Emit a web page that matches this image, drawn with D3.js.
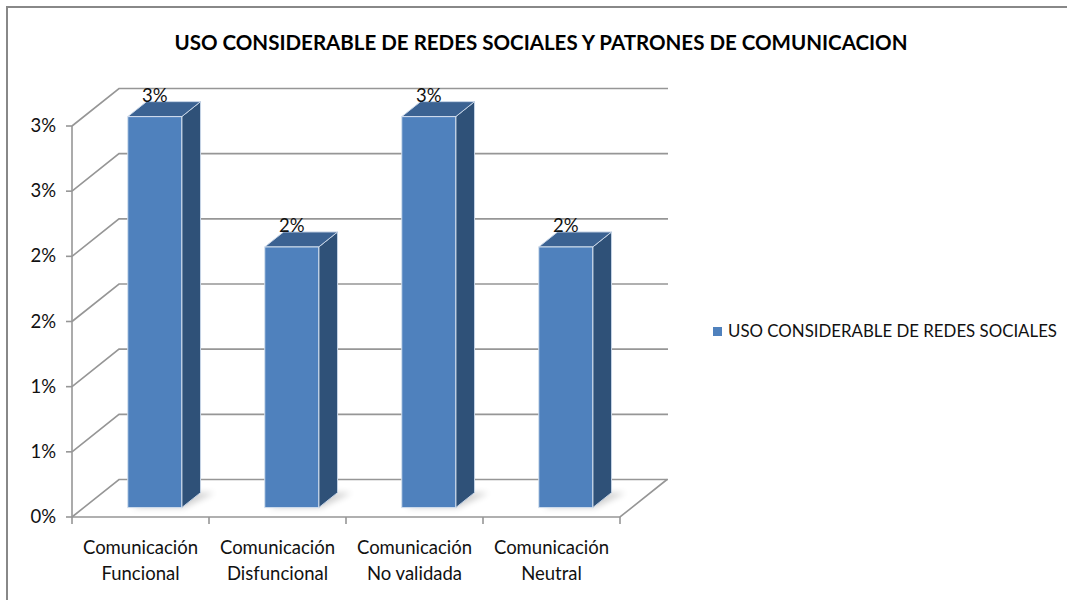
<!DOCTYPE html>
<html><head><meta charset="utf-8">
<script src="https://cdn.jsdelivr.net/npm/d3@7"></script>
<style>body{margin:0;background:#fff}svg{display:block}</style>
</head><body>
<svg id="c" width="1067" height="600"></svg>
<script>
const title = "USO CONSIDERABLE DE REDES SOCIALES Y PATRONES DE COMUNICACION";
const seriesName = "USO CONSIDERABLE DE REDES SOCIALES";
const categories = ["Comunicación Funcional", "Comunicación Disfuncional", "Comunicación No validada", "Comunicación Neutral"];
const values = [0.03, 0.02, 0.03, 0.02];
const valueLabels = ["3%", "2%", "3%", "2%"];
const tickValues = [0, 0.005, 0.01, 0.015, 0.02, 0.025, 0.03];
const tickLabels = ["0%", "1%", "1%", "2%", "2%", "3%", "3%"];

const svg = d3.select("#c");
const FONT = "Lato, 'Open Sans', sans-serif";
const DX = 47, DY = -37.5;      // full depth offset
const z0 = 0.25, z1 = 0.65;     // bar depth extent
const backRight = 668;

const x = d3.scaleBand().domain(categories).range([72, 620]);
const y = d3.scaleLinear().domain([0, 0.03]).range([517, 126]);

const defs = svg.append("defs");
defs.append("filter").attr("id", "blur").attr("x", "-50%").attr("y", "-50%").attr("width", "200%").attr("height", "200%")
  .append("feGaussianBlur").attr("stdDeviation", 3);

// outer border
svg.append("rect").attr("x", 7).attr("y", 7).attr("width", 1070).attr("height", 600)
  .attr("fill", "none").attr("stroke", "#888").attr("stroke-width", 2);

// title
svg.append("text").attr("x", 541).attr("y", 50).attr("text-anchor", "middle")
  .attr("font-family", FONT).attr("font-weight", "bold").attr("font-size", 20.5)
  .attr("textLength", 733).attr("lengthAdjust", "spacingAndGlyphs")
  .attr("fill", "#000").text(title);

const grid = svg.append("g").attr("stroke", "#969696").attr("stroke-width", 1.6).attr("fill", "none");
tickValues.forEach(t => {
  const yy = y(t);
  grid.append("path").attr("d", `M${x.range()[0]},${yy}L${x.range()[0] + DX},${yy + DY}L${backRight},${yy + DY}`);
});
grid.append("path").attr("d", `M${x.range()[0]},${y(0)}L${x.range()[1]},${y(0)}L${x.range()[1] + DX},${y(0) + DY}`);
grid.append("line").attr("x1", x.range()[0]).attr("x2", x.range()[0]).attr("y1", y(0)).attr("y2", y(0.03));
tickValues.forEach(t => {
  grid.append("line").attr("x1", x.range()[0] - 6).attr("x2", x.range()[0]).attr("y1", y(t)).attr("y2", y(t));
});
const bounds = categories.map(c => x(c)).concat([x.range()[1]]);
bounds.forEach(b => {
  grid.append("line").attr("x1", b).attr("x2", b).attr("y1", y(0)).attr("y2", y(0) + 7);
});

// y tick labels
svg.append("g").selectAll("text").data(tickValues).join("text")
  .attr("x", 56).attr("y", d => y(d) + 6).attr("text-anchor", "end")
  .attr("font-family", FONT).attr("font-size", 18.5).attr("fill", "#111")
  .text((d, i) => tickLabels[i]);

// category labels
const cat = svg.append("g");
categories.forEach(c => {
  const parts = c.split(" ");
  const lines = [parts[0], parts.slice(1).join(" ")];
  const t = cat.append("text").attr("text-anchor", "middle").attr("font-family", FONT)
    .attr("font-size", 18.5).attr("fill", "#111");
  lines.forEach((l, i) => t.append("tspan").attr("x", x(c) + x.bandwidth() / 2).attr("y", 554 + i * 26).text(l));
});

// bars
const bw = x.bandwidth() * 0.394;
const bars = svg.append("g");
categories.forEach((c, i) => {
  const cx = x(c) + x.bandwidth() / 2 + z0 * DX + 2.5;
  const xl = cx - bw / 2, xr = cx + bw / 2;
  const yb = y(0) + z0 * DY, yt = y(values[i]) + z0 * DY;
  const ddx = (z1 - z0) * DX, ddy = (z1 - z0) * DY;
  bars.append("path").attr("d", `M${xl + 4},${yb}L${xr + 2},${yb}L${xr + ddx + 14},${yb + ddy}L${xl + ddx + 10},${yb + ddy}Z`)
    .attr("fill", "#000").attr("opacity", 0.18).attr("filter", "url(#blur)");
  bars.append("path").attr("d", `M${xr},${yb}L${xr + ddx},${yb + ddy}L${xr + ddx},${yt + ddy}L${xr},${yt}Z`)
    .attr("fill", "#2f5178").attr("stroke", "#c6d4e6").attr("stroke-width", 1).attr("stroke-linejoin", "round");
  bars.append("path").attr("d", `M${xl},${yt}L${xr},${yt}L${xr + ddx},${yt + ddy}L${xl + ddx},${yt + ddy}Z`)
    .attr("fill", "#3b6292").attr("stroke", "#c6d4e6").attr("stroke-width", 1).attr("stroke-linejoin", "round");
  bars.append("rect").attr("x", xl).attr("y", yt).attr("width", bw).attr("height", yb - yt)
    .attr("fill", "#4f81bd").attr("stroke", "#d5e0ee").attr("stroke-width", 1);
  bars.append("text").attr("x", cx).attr("y", yt - 15).attr("text-anchor", "middle")
    .attr("font-family", FONT).attr("font-size", 18.5).attr("fill", "#111").text(valueLabels[i]);
});

// legend
svg.append("rect").attr("x", 713).attr("y", 327).attr("width", 9).attr("height", 9).attr("fill", "#4f81bd");
svg.append("text").attr("x", 728).attr("y", 337).attr("font-family", FONT).attr("font-size", 17)
  .attr("textLength", 329).attr("lengthAdjust", "spacingAndGlyphs")
  .attr("fill", "#111").text(seriesName);
</script>
</body></html>
